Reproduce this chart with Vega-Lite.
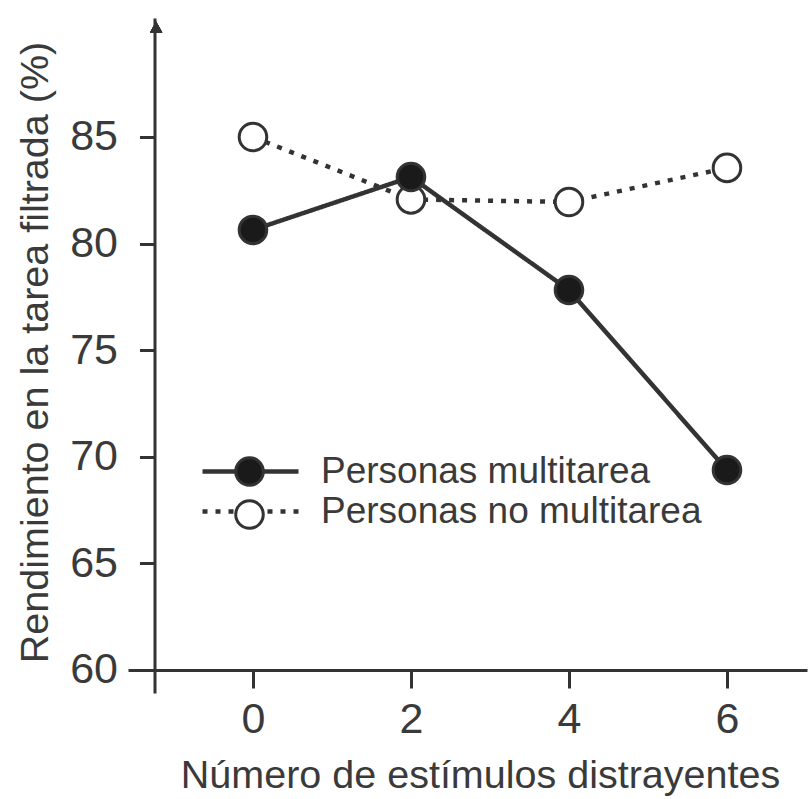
{
  "$schema": "https://vega.github.io/schema/vega-lite/v6.json",
  "width": 679,
  "height": 675,
  "autosize": {"type": "none"},
  "padding": {"left": 128, "top": 18, "right": 1, "bottom": 106},
  "background": "white",
  "config": {
    "view": {"stroke": null},
    "font": "Liberation Sans",
    "axis": {"grid": false}
  },
  "data": {
    "values": [
      {"estimulos": 0, "rendimiento": 85.0, "serie": "Personas no multitarea", "marcador": "vacío"},
      {"estimulos": 2, "rendimiento": 82.07, "serie": "Personas no multitarea", "marcador": "vacío"},
      {"estimulos": 4, "rendimiento": 81.95, "serie": "Personas no multitarea", "marcador": "vacío"},
      {"estimulos": 6, "rendimiento": 83.55, "serie": "Personas no multitarea", "marcador": "vacío"},
      {"estimulos": 0, "rendimiento": 80.64, "serie": "Personas multitarea", "marcador": "lleno"},
      {"estimulos": 2, "rendimiento": 83.12, "serie": "Personas multitarea", "marcador": "lleno"},
      {"estimulos": 4, "rendimiento": 77.82, "serie": "Personas multitarea", "marcador": "lleno"},
      {"estimulos": 6, "rendimiento": 69.38, "serie": "Personas multitarea", "marcador": "lleno"}
    ]
  },
  "encoding": {
    "x": {
      "field": "estimulos",
      "type": "quantitative",
      "scale": {"domain": [-1.582, 7.013], "nice": false, "zero": false},
      "axis": {
        "values": [0, 2, 4, 6],
        "offset": -23,
        "tickSize": 18,
        "tickWidth": 3,
        "tickColor": "#333333",
        "domainWidth": 3,
        "domainColor": "#333333",
        "labelFontSize": 43,
        "labelColor": "#3a3a3a",
        "labelPadding": 10,
        "title": "Número de estímulos distrayentes",
        "titleFontSize": 39.5,
        "titleFontWeight": "normal",
        "titleColor": "#3a3a3a",
        "titleX": 352,
        "titleY": 117,
        "titleBaseline": "alphabetic"
      }
    },
    "y": {
      "field": "rendimiento",
      "type": "quantitative",
      "scale": {"domain": [58.92, 90.58], "nice": false, "zero": false},
      "axis": {
        "values": [60, 65, 70, 75, 80, 85],
        "offset": -26.5,
        "tickSize": 15,
        "tickWidth": 3,
        "tickColor": "#333333",
        "domainWidth": 3,
        "domainColor": "#333333",
        "labelFontSize": 43,
        "labelColor": "#3a3a3a",
        "labelPadding": 22,
        "title": "Rendimiento en la tarea filtrada (%)",
        "titleFontSize": 39.5,
        "titleFontWeight": "normal",
        "titleColor": "#3a3a3a",
        "titleX": -107,
        "titleY": 334,
        "titleBaseline": "alphabetic"
      }
    }
  },
  "layer": [
    {
      "mark": {"type": "line", "stroke": "#333333", "strokeWidth": 4.5},
      "encoding": {
        "strokeDash": {
          "field": "serie",
          "type": "nominal",
          "scale": {"domain": ["Personas multitarea", "Personas no multitarea"], "range": [[1, 0], [5, 8]]},
          "legend": {
            "orient": "none",
            "legendX": 104,
            "legendY": 435,
            "title": null,
            "padding": 0,
            "symbolType": "M-3,0H3",
            "symbolSize": 1024,
            "symbolStrokeWidth": 4.5,
            "symbolStrokeColor": "#333333",
            "symbolFillColor": "transparent",
            "labelFontSize": 37,
            "labelColor": "#3a3a3a",
            "labelOffset": 52,
            "labelLimit": 0,
            "zindex": 1
          }
        }
      }
    },
    {
      "mark": {"type": "circle", "stroke": "#333333", "strokeWidth": 3, "size": 760, "opacity": 1},
      "encoding": {
        "fill": {
          "field": "marcador",
          "type": "nominal",
          "scale": {"domain": ["lleno", "vacío"], "range": ["#1a1a1a", "#ffffff"]},
          "legend": {
            "orient": "none",
            "legendX": 103,
            "legendY": 435,
            "title": null,
            "padding": 0,
            "symbolType": "circle",
            "symbolSize": 760,
            "symbolStrokeWidth": 3,
            "symbolStrokeColor": "#333333",
            "symbolOpacity": 1,
            "labelFontSize": 37,
            "labelExpr": "' '",
            "labelOpacity": 0,
            "labelLimit": 0,
            "zindex": 2
          }
        }
      }
    },
    {
      "mark": {"type": "point", "shape": "triangle-up", "filled": true, "color": "#333333", "size": 150, "opacity": 1},
      "encoding": {
        "x": {"datum": -1.226},
        "y": {"datum": 90.15}
      }
    }
  ]
}
